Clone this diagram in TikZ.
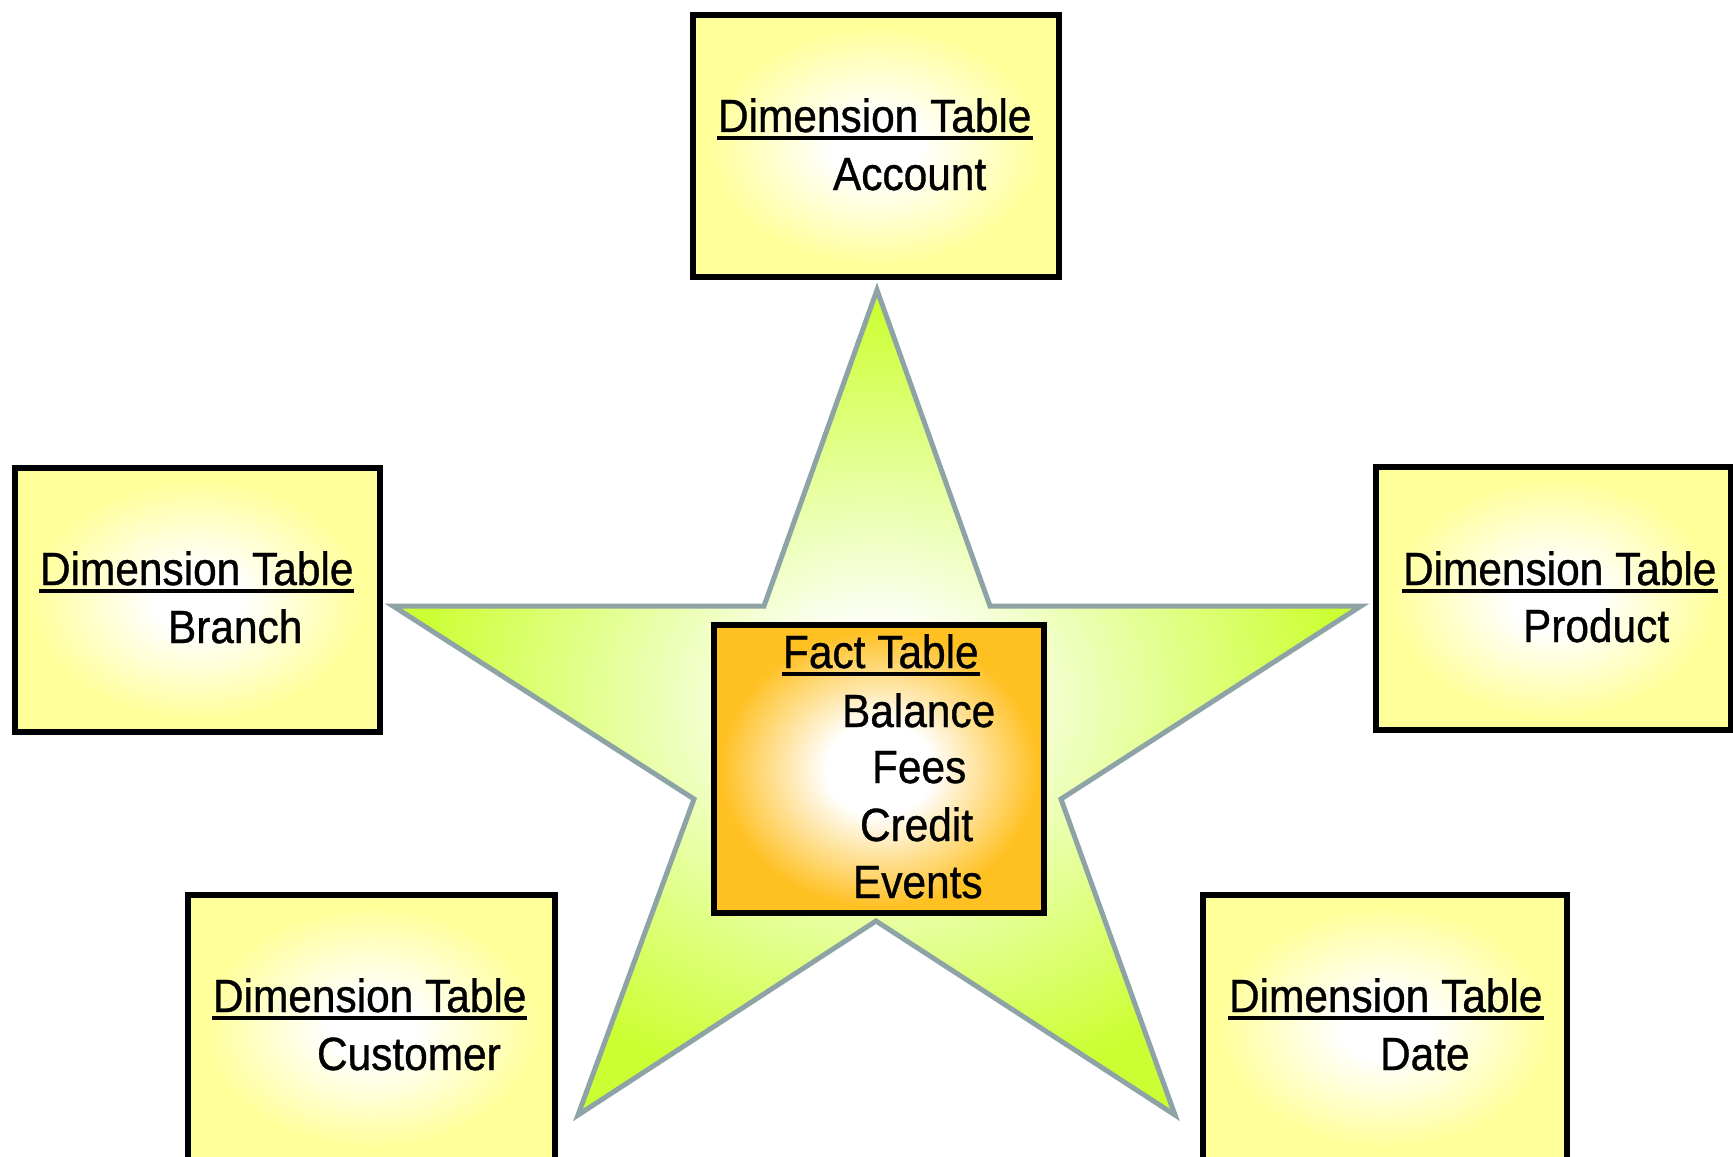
\documentclass[tikz,border=0pt]{standalone}
\usepackage{fontspec}
\setmainfont{Liberation Sans}[FakeStretch=0.91,FakeBold=0.8]
\definecolor{starlime}{HTML}{CCFF33}
\definecolor{staredge}{HTML}{8DA3A6}
\definecolor{dimyellow}{HTML}{FFFF99}
\definecolor{factorange}{HTML}{FFC022}
\pgfdeclareradialshading{starshade}{\pgfpoint{0bp}{0bp}}{color(0bp)=(white); color(4bp)=(white); color(24bp)=(starlime); color(50bp)=(starlime)}
\pgfdeclareradialshading{dimshade}{\pgfpoint{0bp}{0bp}}{color(0bp)=(white); color(6bp)=(white); color(23bp)=(dimyellow); color(50bp)=(dimyellow)}
\pgfdeclareradialshading{factshade}{\pgfpoint{0bp}{0bp}}{color(0bp)=(white); color(8bp)=(white); color(24bp)=(factorange); color(50bp)=(factorange)}
\tikzset{
  starline/.style={draw=staredge, line width=2.5pt, line join=miter, shading=starshade},
  dimbox/.style={rectangle, draw=black, line width=3pt, shading=dimshade, inner sep=0pt},
  factbox/.style={rectangle, draw=black, line width=3pt, shading=factshade, inner sep=0pt},
  lbl/.style={anchor=base west, inner sep=0pt, outer sep=0pt, font=\fontsize{23.3pt}{28pt}\selectfont},
  uline/.style={draw=black, line width=2pt}
}
\begin{document}
\begin{tikzpicture}[x=0.5pt,y=-0.5pt]
\useasboundingbox (0,0) rectangle (1733,1156);
\clip (0,0) rectangle (1733,1156);
% star
\path[starline] (877,290) coordinate (st1) -- (764,606) coordinate (st2) -- (393,606) coordinate (st3)
  -- (694,799) coordinate (st4) -- (578,1115) coordinate (st5) -- (876,921) coordinate (st6)
  -- (1175,1115) coordinate (st7) -- (1061,799) coordinate (st8) -- (1361,606) coordinate (st9)
  -- (990,606) coordinate (st10) -- cycle;
% dimension boxes
\node[dimbox, minimum width=183pt, minimum height=131pt] (acc) at (876,146) {};
\node[dimbox, minimum width=182.5pt, minimum height=132pt] (bra) at (197.5,600) {};
\node[dimbox, minimum width=177.5pt, minimum height=131.5pt] (pro) at (1553.5,598.5) {};
\node[dimbox, minimum width=183.5pt, minimum height=132.5pt] (cus) at (371.5,1027.5) {};
\node[dimbox, minimum width=182pt, minimum height=132.5pt] (dat) at (1385,1027.5) {};
% fact box
\node[factbox, minimum width=165pt, minimum height=144pt] (fact) at (879,769) {};
% texts
\node[lbl] (accH) at (718,132) {Dimension Table};
\node[lbl] (accT) at (833,190) {Account};
\node[lbl] (braH) at (40,585) {Dimension Table};
\node[lbl] (braT) at (168,643) {Branch};
\node[lbl] (proH) at (1403,585) {Dimension Table};
\node[lbl] (proT) at (1523,642) {Product};
\node[lbl] (cusH) at (213,1012) {Dimension Table};
\node[lbl] (cusT) at (317,1070) {Customer};
\node[lbl] (datH) at (1229,1012) {Dimension Table};
\node[lbl] (datT) at (1380,1070) {Date};
\node[lbl] (facH) at (783,668) {Fact Table};
\node[lbl] (fac1) at (842,727) {Balance};
\node[lbl] (fac2) at (872,783) {Fees};
\node[lbl] (fac3) at (860,841) {Credit};
\node[lbl] (fac4) at (853,898) {Events};
% underlines
\foreach \n in {accH,braH,proH,cusH,datH,facH}{
  \draw[uline] ([xshift=-0.5pt,yshift=-3pt]\n.base west) -- ([xshift=0.5pt,yshift=-3pt]\n.base east);
}
\end{tikzpicture}
\end{document}
